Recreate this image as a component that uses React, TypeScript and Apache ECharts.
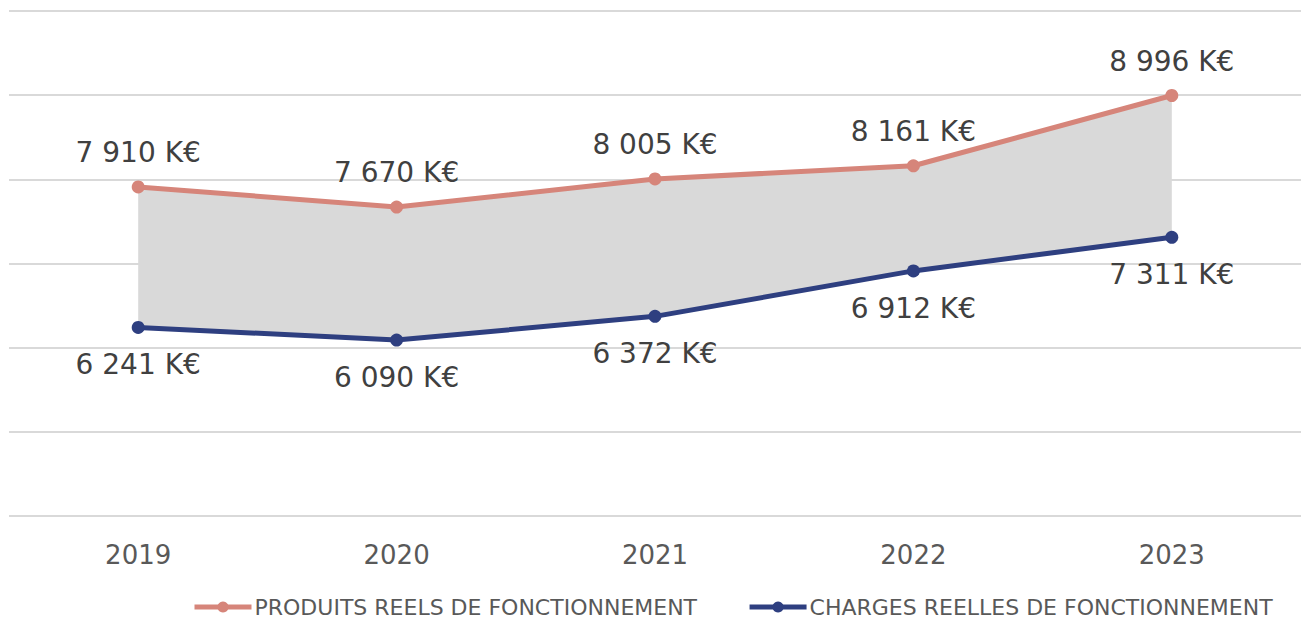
import React, { useEffect, useRef } from "react";
import * as echarts from "echarts";

const years = ["2019", "2020", "2021", "2022", "2023"];
const produits = [7910, 7670, 8005, 8161, 8996];
const charges = [6241, 6090, 6372, 6912, 7311];
const nameProduits = "PRODUITS REELS DE FONCTIONNEMENT";
const nameCharges = "CHARGES REELLES DE FONCTIONNEMENT";

const fmt = (v: number) => {
  const th = Math.floor(v / 1000);
  const rest = String(v % 1000).padStart(3, "0");
  return `${th} ${rest} K€`;
};

export default function App() {
  const ref = useRef<HTMLDivElement>(null);
  useEffect(() => {
    if (!ref.current) return;
    const chart = echarts.init(ref.current, undefined, { renderer: "svg" });
    const band = produits.map((p, i) => p - charges[i]);
    const font = "'DejaVu Sans', sans-serif";
    chart.setOption({
      animation: false,
      textStyle: { fontFamily: font },
      grid: { left: 9, right: 5, top: 11, bottom: 103, containLabel: false },
      legend: {
        data: [nameProduits, nameCharges],
        left: 192,
        top: 596,
        padding: 0,
        itemWidth: 57,
        itemHeight: 14,
        itemGap: 50,
        lineStyle: { width: 5 },
        textStyle: { fontSize: 22, lineHeight: 22, color: "#595959", fontFamily: font, padding: [0, 0, 0, -2] },
      },
      xAxis: {
        type: "category",
        data: years,
        boundaryGap: true,
        axisLine: { show: false },
        axisTick: { show: false },
        axisLabel: { fontSize: 26, color: "#595959", margin: 26, fontFamily: font },
      },
      yAxis: {
        type: "value",
        min: 4000,
        max: 10000,
        interval: 1000,
        axisLabel: { show: false },
        axisLine: { show: false },
        axisTick: { show: false },
        splitLine: { lineStyle: { color: "#d9d9d9", width: 2 } },
      },
      series: [
        {
          name: "_base",
          type: "line",
          stack: "band",
          data: charges,
          symbol: "none",
          lineStyle: { opacity: 0 },
          silent: true,
        },
        {
          name: "_band",
          type: "line",
          stack: "band",
          data: band,
          symbol: "none",
          lineStyle: { opacity: 0 },
          areaStyle: { color: "#d9d9d9", opacity: 1 },
          silent: true,
        },
        {
          name: nameProduits,
          type: "line",
          data: produits,
          symbol: "circle",
          symbolSize: 13,
          showAllSymbol: true,
          itemStyle: { color: "#d6857a" },
          lineStyle: { color: "#d6857a", width: 5 },
          label: {
            show: true,
            position: "top",
            distance: 14,
            fontSize: 28,
            color: "#404040",
            fontFamily: font,
            formatter: (p: any) => fmt(p.value),
          },
        },
        {
          name: nameCharges,
          type: "line",
          data: charges,
          symbol: "circle",
          symbolSize: 13,
          showAllSymbol: true,
          itemStyle: { color: "#2e3f80" },
          lineStyle: { color: "#2e3f80", width: 5 },
          label: {
            show: true,
            position: "bottom",
            distance: 17,
            fontSize: 28,
            color: "#404040",
            fontFamily: font,
            formatter: (p: any) => fmt(p.value),
          },
        },
      ],
    });
    return () => chart.dispose();
  }, []);
  return <div ref={ref} style={{ width: 1306, height: 619, position: "absolute", left: 0, top: 0 }} />;
}
